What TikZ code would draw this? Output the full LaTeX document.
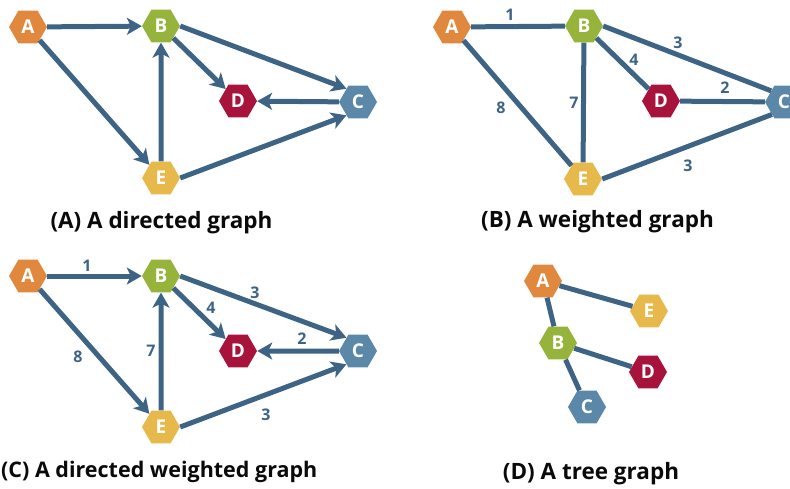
\documentclass[tikz,border=0pt]{standalone}
\usepackage{fontspec}
\setmainfont{Open Sans}
\usetikzlibrary{shapes.geometric,arrows.meta}
\definecolor{cA}{HTML}{E0893E}
\definecolor{cB}{HTML}{96B33C}
\definecolor{cC}{HTML}{5B88A9}
\definecolor{cD}{HTML}{A8133C}
\definecolor{cE}{HTML}{E6B94A}
\definecolor{edgecol}{HTML}{3E6485}
\definecolor{capcol}{HTML}{0A0A0A}
\tikzset{
  hexnode/.style={regular polygon, regular polygon sides=6, minimum size=38pt,
    inner sep=0pt, text=white, font=\fontsize{19}{19}\selectfont\bfseries},
  na/.style={hexnode, fill=cA},
  nb/.style={hexnode, fill=cB},
  nc/.style={hexnode, fill=cC},
  nd/.style={hexnode, fill=cD},
  ne/.style={hexnode, fill=cE},
  link/.style={draw=edgecol, line width=5pt},
  arc/.style={link, -{Stealth[length=15pt,width=17pt,inset=4pt]}},
  wlabel/.style={text=edgecol, font=\fontsize{16}{16}\selectfont\bfseries, inner sep=0pt},
  caption/.style={text=capcol, font=\fontsize{22.5}{22.5}\selectfont\bfseries, inner sep=0pt}
}
\begin{document}
\begin{tikzpicture}[x=1pt,y=-1pt]
\useasboundingbox (0,0) rectangle (790,488);
% ---------- Panel A ----------
\node[na] (a1) at (28,27) {A};
\node[nb] (b1) at (161,26) {B};
\node[nd] (d1) at (238,101) {D};
\node[nc] (c1) at (358,102) {C};
\node[ne] (e1) at (161,178) {E};
\draw[arc] (a1) -- (b1);
\draw[arc] (a1) -- (e1);
\draw[arc] (e1) -- (b1);
\draw[arc] (b1) -- (d1);
\draw[arc] (b1.east) -- (c1.131);
\draw[arc] (c1) -- (d1);
\draw[arc] (e1.east) -- (c1.229);
\node[caption] (capA) at (161.5,223) {(A) A directed graph};
% ---------- Panel B ----------
\node[na] (a2) at (452,27) {A};
\node[nb] (b2) at (584,26) {B};
\node[nd] (d2) at (661,101) {D};
\node[nc] (c2) at (784,102) {C};
\node[ne] (e2) at (583,179) {E};
\draw[link] (a2) -- (b2);
\draw[link] (a2) -- (e2);
\draw[link] (b2) -- (e2);
\draw[link] (b2) -- (d2);
\draw[link] (b2.east) -- (c2.139);
\draw[link] (d2) -- (c2);
\draw[link] (e2.east) -- (c2.226);
\node[wlabel] (w1) at (510,15) {1};
\node[wlabel] (w2) at (678,43) {3};
\node[wlabel] (w3) at (634,60) {4};
\node[wlabel] (w4) at (725,88) {2};
\node[wlabel] (w5) at (501,108) {8};
\node[wlabel] (w6) at (574,103) {7};
\node[wlabel] (w7) at (688,166) {3};
\node[caption] (capB) at (597.5,222) {(B) A weighted graph};
% ---------- Panel C ----------
\node[na] (a3) at (28,276) {A};
\node[nb] (b3) at (161,276) {B};
\node[nd] (d3) at (238,351) {D};
\node[nc] (c3) at (358,351) {C};
\node[ne] (e3) at (161,427) {E};
\draw[arc] (a3) -- (b3);
\draw[arc] (a3) -- (e3);
\draw[arc] (e3) -- (b3);
\draw[arc] (b3) -- (d3);
\draw[arc] (b3.east) -- (c3.131);
\draw[arc] (c3) -- (d3);
\draw[arc] (e3.east) -- (c3.229);
\node[wlabel] (x1) at (87,266) {1};
\node[wlabel] (x2) at (255,293) {3};
\node[wlabel] (x3) at (211,308) {4};
\node[wlabel] (x4) at (302,339) {2};
\node[wlabel] (x5) at (78,357) {8};
\node[wlabel] (x6) at (151,351) {7};
\node[wlabel] (x7) at (266,415) {3};
\node[caption, anchor=west, font=\fontsize{21.5}{21.5}\selectfont\bfseries] (capC) at (1,472) {(C) A directed weighted graph};
% ---------- Panel D ----------
\node[na] (a4) at (543,281) {A};
\node[ne] (e4) at (649,311) {E};
\node[nb] (b4) at (558,343) {B};
\node[nd] (d4) at (648,372) {D};
\node[nc] (c4) at (587,407) {C};
\draw[link] (a4) -- (e4);
\draw[link] (a4) -- (b4);
\draw[link] (b4) -- (d4);
\draw[link] (b4) -- (c4);
\node[caption] (capD) at (591,474) {(D) A tree graph};
\end{tikzpicture}
\end{document}
